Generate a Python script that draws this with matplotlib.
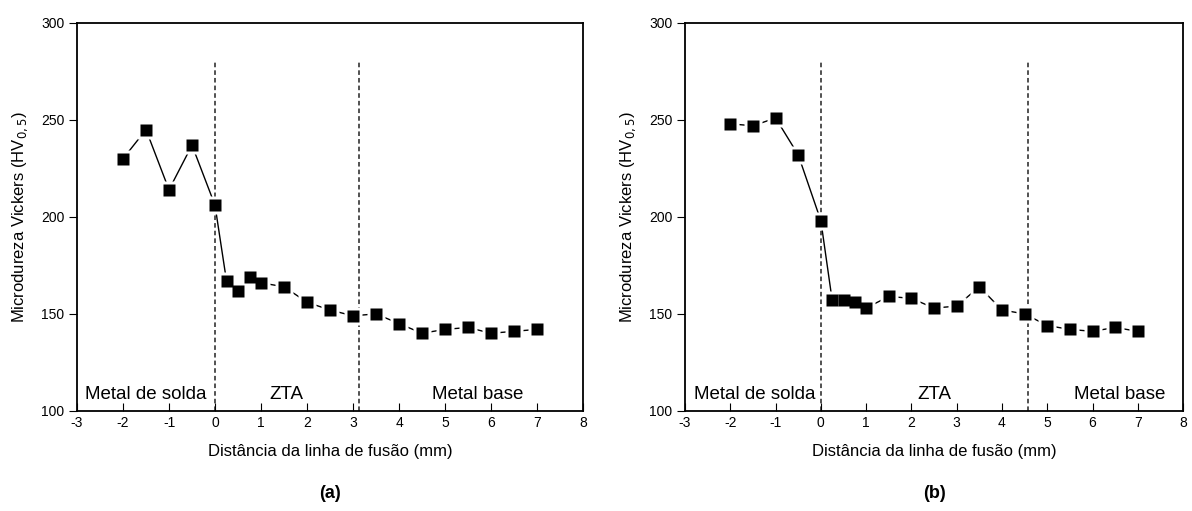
import numpy as np
import matplotlib.pyplot as plt

plt.rcParams['font.family'] = ['Liberation Sans', 'DejaVu Sans']
plt.rcParams['axes.unicode_minus'] = False

# dados
dist = [-2, -1.5, -1, -0.5, 0, 0.25, 0.5, 0.75, 1, 1.5, 2, 2.5, 3, 3.5,
        4, 4.5, 5, 5.5, 6, 6.5, 7]
hv_a = [230, 245, 214, 237, 206, 167, 162, 169, 166, 164, 156, 152, 149, 150,
        145, 140, 142, 143, 140, 141, 142]
hv_b = [248, 247, 251, 232, 198, 157, 157, 156, 153, 159, 158, 153, 154, 164,
        152, 150, 144, 142, 141, 143, 141]

limites_a = [0, 3.12]
limites_b = [0, 4.58]
topo_linha = 280

zonas_a = [('Metal de solda', -1.5), ('ZTA', 1.55), ('Metal base', 5.7)]
zonas_b = [('Metal de solda', -1.45), ('ZTA', 2.5), ('Metal base', 6.6)]

fig = plt.figure(figsize=(11.92, 5.11), dpi=100)
ax1 = fig.add_axes([0.0646, 0.196, 0.4245, 0.759])
ax2 = fig.add_axes([0.5747, 0.196, 0.4178, 0.759])


def painel(ax, y, limites, zonas, letra):
    ax.plot(dist, y, color='black', lw=1.0, zorder=2)
    # folga branca em volta dos simbolos (estilo Origin)
    ax.plot(dist, y, ls='none', marker='s', ms=13.4, mfc='white',
            mec='none', zorder=3)
    ax.plot(dist, y, ls='none', marker='s', ms=8.6, mfc='black',
            mec='none', zorder=4)
    for xl in limites:
        ax.plot([xl, xl], [100, topo_linha], ls=(0, (3, 2)), color='#222222',
                lw=1.1, zorder=1)
    for txt, xp in zonas:
        ax.text(xp, 104, txt, ha='center', va='bottom', fontsize=13.5)
    ax.set_xlim(-3, 8)
    ax.set_ylim(100, 300)
    ax.set_xticks(np.arange(-3, 9, 1))
    ax.set_yticks(np.arange(100, 301, 50))
    ax.tick_params(axis='x', direction='in', length=5.5, labelsize=10, pad=4)
    ax.tick_params(axis='y', direction='out', length=5.5, labelsize=10)
    for s in ax.spines.values():
        s.set_linewidth(1.3)
    ax.set_xlabel('Distância da linha de fusão (mm)', fontsize=12, labelpad=10)
    ax.set_ylabel('Microdureza Vickers (HV$_{0,5}$)', fontsize=12, labelpad=8)
    ax.text(0.5, -0.212, letra, transform=ax.transAxes, ha='center', va='center',
            fontsize=13, fontweight='bold')


painel(ax1, hv_a, limites_a, zonas_a, '(a)')
painel(ax2, hv_b, limites_b, zonas_b, '(b)')

fig.savefig('out.png', dpi=100)
